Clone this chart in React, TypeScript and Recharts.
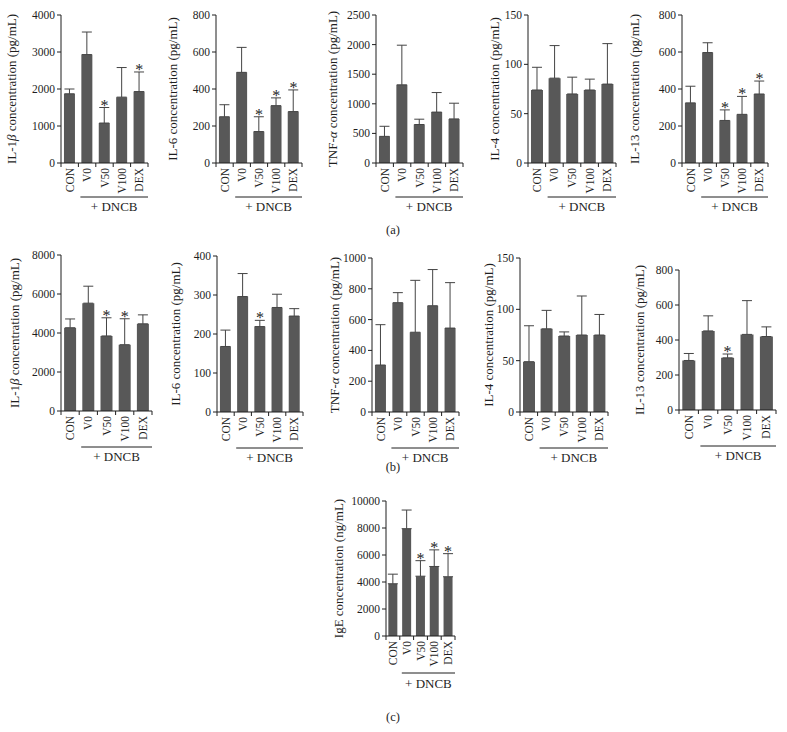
import React from 'react';
import { ComposedChart, Bar, Line, XAxis, YAxis, ErrorBar } from 'recharts';

const groups = ['CON', 'V0', 'V50', 'V100', 'DEX'];

// (a) values, top of error bar, significance marks
const a1Values = [1870, 2930, 1080, 1780, 1930];
const a1ErrTop = [2000, 3540, 1500, 2580, 2460];
const a1Stars = [false, false, true, false, true];
const a1Ticks = [0, 1000, 2000, 3000, 4000];

const a2Values = [250, 490, 170, 310, 278];
const a2ErrTop = [315, 625, 250, 352, 395];
const a2Stars = [false, false, true, true, true];
const a2Ticks = [0, 200, 400, 600, 800];

const a3Values = [450, 1320, 650, 860, 745];
const a3ErrTop = [620, 1990, 740, 1190, 1010];
const a3Stars = [false, false, false, false, false];
const a3Ticks = [0, 500, 1000, 1500, 2000, 2500];

const a4Values = [74, 86, 70, 74, 80];
const a4ErrTop = [97, 119, 87, 85, 121];
const a4Stars = [false, false, false, false, false];
const a4Ticks = [0, 50, 100, 150];

const a5Values = [325, 597, 230, 263, 373];
const a5ErrTop = [415, 650, 287, 360, 443];
const a5Stars = [false, false, true, true, true];
const a5Ticks = [0, 200, 400, 600, 800];

// (b)
const b1Values = [4270, 5530, 3850, 3400, 4470];
const b1ErrTop = [4720, 6400, 4780, 4730, 4930];
const b1Stars = [false, false, true, true, false];
const b1Ticks = [0, 2000, 4000, 6000, 8000];

const b2Values = [168, 296, 219, 268, 246];
const b2ErrTop = [210, 355, 235, 302, 265];
const b2Stars = [false, false, true, false, false];
const b2Ticks = [0, 100, 200, 300, 400];

const b3Values = [305, 710, 518, 690, 545];
const b3ErrTop = [567, 775, 855, 925, 840];
const b3Stars = [false, false, false, false, false];
const b3Ticks = [0, 200, 400, 600, 800, 1000];

const b4Values = [49, 81, 74, 75, 75];
const b4ErrTop = [84, 99, 78, 113, 95];
const b4Stars = [false, false, false, false, false];
const b4Ticks = [0, 50, 100, 150];

const b5Values = [283, 452, 298, 432, 420];
const b5ErrTop = [323, 538, 320, 625, 475];
const b5Stars = [false, false, true, false, false];
const b5Ticks = [0, 200, 400, 600, 800];

// (c)
const cValues = [3870, 7950, 4430, 5150, 4390];
const cErrTop = [4580, 9330, 5580, 6380, 6100];
const cStars = [false, false, true, true, true];
const cTicks = [0, 2000, 4000, 6000, 8000, 10000];

const FONT = '"Liberation Serif", "DejaVu Serif", serif';
const BAR = '#585858';
const INK = '#1e1e1e';

type Part = { t: string; i?: boolean };

const il1b: Part[] = [{ t: 'IL-1' }, { t: 'β', i: true }, { t: ' concentration (pg/mL)' }];
const il6: Part[] = [{ t: 'IL-6 concentration (pg/mL)' }];
const tnf: Part[] = [{ t: 'TNF-' }, { t: 'α', i: true }, { t: ' concentration (pg/mL)' }];
const il4: Part[] = [{ t: 'IL-4 concentration (pg/mL)' }];
const il13: Part[] = [{ t: 'IL-13 concentration (pg/mL)' }];
const ige: Part[] = [{ t: 'IgE concentration (ng/mL)' }];

interface PanelDef {
  title: Part[];
  values: number[];
  errTop: number[];
  stars: boolean[];
  ticks: number[];
  // layout, page pixels
  axisX: number;
  topY: number;
  bottomY: number;
  rightX: number;
  labelDx: number;
  lineDy: number;
  textDy: number;
}

const panels: PanelDef[] = [
  { title: il1b, values: a1Values, errTop: a1ErrTop, stars: a1Stars, ticks: a1Ticks, axisX: 61, topY: 15, bottomY: 163, rightX: 148, labelDx: -50, lineDy: 34, textDy: 48 },
  { title: il6, values: a2Values, errTop: a2ErrTop, stars: a2Stars, ticks: a2Ticks, axisX: 216, topY: 15, bottomY: 163, rightX: 302, labelDx: -44, lineDy: 34, textDy: 48 },
  { title: tnf, values: a3Values, errTop: a3ErrTop, stars: a3Stars, ticks: a3Ticks, axisX: 376, topY: 15, bottomY: 163, rightX: 463, labelDx: -44, lineDy: 34, textDy: 48 },
  { title: il4, values: a4Values, errTop: a4ErrTop, stars: a4Stars, ticks: a4Ticks, axisX: 528, topY: 15, bottomY: 163, rightX: 616, labelDx: -34, lineDy: 34, textDy: 48 },
  { title: il13, values: a5Values, errTop: a5ErrTop, stars: a5Stars, ticks: a5Ticks, axisX: 682, topY: 15, bottomY: 163, rightX: 768, labelDx: -48, lineDy: 34, textDy: 48 },
  { title: il1b, values: b1Values, errTop: b1ErrTop, stars: b1Stars, ticks: b1Ticks, axisX: 61, topY: 255, bottomY: 411, rightX: 152, labelDx: -47, lineDy: 36, textDy: 50 },
  { title: il6, values: b2Values, errTop: b2ErrTop, stars: b2Stars, ticks: b2Ticks, axisX: 217, topY: 256, bottomY: 412, rightX: 303, labelDx: -42, lineDy: 36, textDy: 50 },
  { title: tnf, values: b3Values, errTop: b3ErrTop, stars: b3Stars, ticks: b3Ticks, axisX: 372, topY: 258, bottomY: 412, rightX: 459, labelDx: -38, lineDy: 36, textDy: 50 },
  { title: il4, values: b4Values, errTop: b4ErrTop, stars: b4Stars, ticks: b4Ticks, axisX: 520, topY: 258, bottomY: 412, rightX: 608, labelDx: -32, lineDy: 36, textDy: 50 },
  { title: il13, values: b5Values, errTop: b5ErrTop, stars: b5Stars, ticks: b5Ticks, axisX: 679, topY: 270, bottomY: 410, rightX: 776, labelDx: -40, lineDy: 36, textDy: 50 },
  { title: ige, values: cValues, errTop: cErrTop, stars: cStars, ticks: cTicks, axisX: 386, topY: 501, bottomY: 636, rightX: 455, labelDx: -48, lineDy: 37, textDy: 52 },
];

const GroupTick = (props: any) => {
  const { x, y, payload } = props;
  return (
    <text
      x={x}
      y={y}
      transform={`rotate(-90, ${x}, ${y})`}
      textAnchor="end"
      dy="0.35em"
      fontSize={11.5}
      fontFamily={FONT}
      fill={INK}
    >
      {payload.value}
    </text>
  );
};

const StarDot = (props: any) => {
  const { cx, cy, value, index } = props;
  if (value == null || cy == null || isNaN(cy)) return <g key={`s${index}`} />;
  return (
    <text key={`s${index}`} x={cx} y={cy + 3} textAnchor="middle" fontSize={16} fontFamily={FONT} fill={INK}>
      *
    </text>
  );
};

const Panel = ({ p }: { p: PanelDef }) => {
  const padL = 62;
  const yW = 40;
  const divLeft = p.axisX - padL;
  const divTop = p.topY - 8;
  const xH = 50;
  const W = p.rightX - divLeft + 4;
  const H = p.bottomY - divTop + xH + 2;
  const data = groups.map((g, i) => ({
    name: g,
    value: p.values[i],
    err: [0, p.errTop[i] - p.values[i]],
    star: p.stars[i] ? p.errTop[i] : null,
  }));
  const max = p.ticks[p.ticks.length - 1];
  const midY = (p.topY + p.bottomY) / 2 - divTop;
  const lx = padL + p.labelDx;

  const TitleLabel = () => (
    <text
      x={lx}
      y={midY}
      transform={`rotate(-90, ${lx}, ${midY})`}
      textAnchor="middle"
      dy="0.35em"
      fontSize={13}
      fontFamily={FONT}
      fill={INK}
    >
      {p.title.map((part, k) => (
        <tspan key={k} fontStyle={part.i ? 'italic' : 'normal'}>
          {part.t}
        </tspan>
      ))}
    </text>
  );

  return (
    <div style={{ position: 'absolute', left: divLeft, top: divTop, width: W, height: H }}>
      <ComposedChart
        width={W}
        height={H}
        data={data}
        margin={{ top: 8, right: 4, left: padL - yW, bottom: 2 }}
        barCategoryGap="17%"
      >
        <XAxis
          dataKey="name"
          interval={0}
          height={xH}
          tickSize={0}
          tickMargin={5}
          tick={<GroupTick />}
          axisLine={{ stroke: INK }}
          tickLine={false}
        />
        <YAxis
          width={yW}
          domain={[0, max]}
          ticks={p.ticks}
          tickSize={4}
          tickMargin={2}
          axisLine={{ stroke: INK }}
          tickLine={{ stroke: INK }}
          tick={{ fontSize: 11.5, fontFamily: FONT, fill: INK }}
          allowDataOverflow
          label={<TitleLabel />}
        />
        <Bar dataKey="value" fill={BAR} isAnimationActive={false}>
          <ErrorBar dataKey="err" direction="y" width={5} stroke="#444" strokeWidth={1} isAnimationActive={false} />
        </Bar>
        <Line
          dataKey="star"
          stroke="none"
          dot={<StarDot />}
          activeDot={false}
          isAnimationActive={false}
          legendType="none"
        />
      </ComposedChart>
    </div>
  );
};

const Decorations = () => (
  <svg width={787} height={732} style={{ position: 'absolute', left: 0, top: 0, pointerEvents: 'none' }}>
    {panels.map((p, k) => {
      const bw = (p.rightX - p.axisX) / groups.length;
      const ly = p.bottomY + p.lineDy;
      const x0 = p.axisX + bw + 2;
      return (
        <g key={k}>
          {groups.map((_, i) => (
            <line key={i} x1={p.axisX + bw * i} x2={p.axisX + bw * i} y1={p.bottomY} y2={p.bottomY + 4} stroke={INK} />
          ))}
          <line x1={p.rightX} x2={p.rightX} y1={p.bottomY} y2={p.bottomY + 4} stroke={INK} />
          <line x1={x0} x2={p.rightX} y1={ly} y2={ly} stroke={INK} />
          <text x={(x0 + p.rightX) / 2} y={p.bottomY + p.textDy} textAnchor="middle" fontSize={13} fontFamily={FONT} fill={INK}>
            + DNCB
          </text>
        </g>
      );
    })}
    <text x={393} y={234} textAnchor="middle" fontSize={12.5} fontFamily={FONT} fill={INK}>(a)</text>
    <text x={393} y={471} textAnchor="middle" fontSize={12.5} fontFamily={FONT} fill={INK}>(b)</text>
    <text x={393} y={721} textAnchor="middle" fontSize={12.5} fontFamily={FONT} fill={INK}>(c)</text>
  </svg>
);

export default function App() {
  return (
    <div style={{ position: 'absolute', left: 0, top: 0, width: 787, height: 732, background: '#fff' }}>
      {panels.map((p, k) => (
        <Panel key={k} p={p} />
      ))}
      <Decorations />
    </div>
  );
}
